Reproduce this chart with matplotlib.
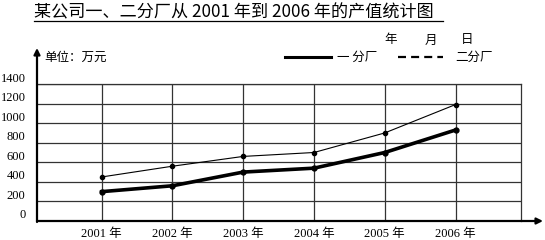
import matplotlib
matplotlib.use("Agg")
import matplotlib.pyplot as plt
from matplotlib.lines import Line2D
from matplotlib.transforms import ScaledTranslation

plt.rcParams['font.family'] = ['Liberation Serif', 'Noto Sans CJK SC']

# data
years = ["2001 年", "2002 年", "2003 年", "2004 年", "2005 年", "2006 年"]
factory1 = [300, 360, 500, 540, 700, 930]    # 一分厂
factory2 = [450, 560, 660, 700, 900, 1190]   # 二分厂
yticks = [0, 200, 400, 600, 800, 1000, 1200, 1400]

W, H = 545, 240
fig = plt.figure(figsize=(W / 100, H / 100), dpi=100)

def fx(px):
    return px / W

def fy(py):
    return 1 - py / H

ax = fig.add_axes([fx(38), fy(221), fx(521) - fx(38), fy(84) - fy(221)])
xs = list(range(len(years)))

ax.plot(xs, factory2, color="black", lw=0.8, marker="o", ms=3, zorder=3)
ax.plot(xs, factory1, color="black", lw=2.6, marker="o", ms=3.5, zorder=3)

ax.set_xlim(-0.9, 5.925)
ax.set_ylim(0, 1400)
ax.set_xticks(xs)
ax.set_xticklabels(years, fontsize=9)
ax.set_yticks(yticks)
ax.set_yticklabels([str(v) for v in yticks], fontsize=9)
ax.tick_params(length=0, pad=2)
ax.tick_params(axis="y", pad=9)
ax.tick_params(axis="x", pad=5)
for lab in ax.get_yticklabels():
    lab.set_transform(lab.get_transform() + ScaledTranslation(0, 7 / 100, fig.dpi_scale_trans))

ax.grid(True, color="#333333", lw=0.9)
ax.set_axisbelow(True)
for s in ["top", "right"]:
    ax.spines[s].set_linewidth(0.9)
    ax.spines[s].set_color("#333333")
for s in ["left", "bottom"]:
    ax.spines[s].set_visible(False)

# axes with arrows
arrow = dict(arrowstyle="-|>", lw=1.6, color="black", mutation_scale=9,
             shrinkA=0, shrinkB=0)
ax.annotate("", xy=(fx(543), fy(221)), xytext=(fx(37), fy(221)),
            xycoords="figure fraction", textcoords="figure fraction", arrowprops=arrow)
ax.annotate("", xy=(fx(37), fy(48)), xytext=(fx(37), fy(222)),
            xycoords="figure fraction", textcoords="figure fraction", arrowprops=arrow)

cjk = ["Noto Sans CJK SC", "DejaVu Sans"]
# title
fig.text(fx(34), fy(12), "某公司一、二分厂从 2001 年到 2006 年的产值统计图",
         fontsize=12.3, family=cjk, ha="left", va="center")
fig.add_artist(Line2D([fx(34), fx(443)], [fy(21), fy(21)], color="black", lw=0.9,
                      transform=fig.transFigure))

fig.text(fx(44), fy(57), "单位：万元", fontsize=9, family=cjk, ha="left", va="center")
for lbl, px in zip(["年", "月", "日"], [391, 431, 467]):
    fig.text(fx(px), fy(40), lbl, fontsize=9, family=cjk, ha="center", va="center")

# legend
fig.add_artist(Line2D([fx(285), fx(331)], [fy(57), fy(57)], color="black", lw=2.2,
                      transform=fig.transFigure))
fig.text(fx(337), fy(57), "一 分厂", fontsize=9, family=cjk, ha="left", va="center")
fig.add_artist(Line2D([fx(398), fx(443)], [fy(57), fy(57)], color="black", lw=1.6,
                      ls=(0, (3.6, 2.3)), transform=fig.transFigure))
fig.text(fx(455), fy(57), "二分厂", fontsize=9, family=cjk, ha="left", va="center")

fig.savefig("out.png", dpi=100)
